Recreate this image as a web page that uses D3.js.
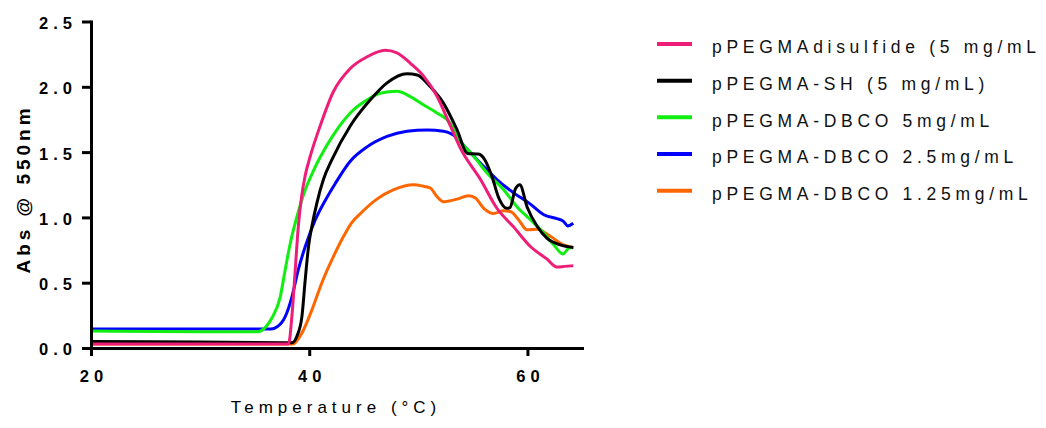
<!DOCTYPE html>
<html><head><meta charset="utf-8">
<script src="https://cdn.jsdelivr.net/npm/d3@7"></script>
<style>body{margin:0;background:#fff}svg{display:block}</style>
</head><body>
<svg id="chart" width="1046" height="428"></svg>
<script>
// ---- data ----
const seriesNames = ["pPEGMAdisulfide (5 mg/mL", "pPEGMA-SH (5 mg/mL)", "pPEGMA-DBCO 5mg/mL", "pPEGMA-DBCO 2.5mg/mL", "pPEGMA-DBCO 1.25mg/mL"];
const seriesColors = ["#ee1e78", "#000000", "#11ee11", "#0000ff", "#ff6600"];

const disulfideT = [20, 25, 30, 35, 38.1, 38.41, 38.72, 39.0, 39.3, 39.63, 40.1, 41.0, 42.2, 43.76, 45.3, 46.97, 48.04, 49.27, 50.5, 51.7, 52.94, 53.85, 55.7, 57.2, 58.7, 60.3, 61.8, 62.7, 63.4, 64.2];
const disulfideA = [0.03, 0.03, 0.03, 0.03, 0.03, 0.24, 0.60, 0.93, 1.16, 1.32, 1.47, 1.70, 1.96, 2.14, 2.23, 2.28, 2.26, 2.18, 2.08, 1.93, 1.70, 1.53, 1.29, 1.07, 0.93, 0.775, 0.68, 0.62, 0.625, 0.63];

const shT = [20, 30, 38.41, 38.87, 39.33, 39.63, 39.94, 40.24, 40.7, 41.3, 42.07, 43.76, 45.6, 47.13, 48.96, 49.9, 51.1, 52.3, 53.55, 54.5, 55.5, 56.1, 56.76, 57.37, 58.1, 58.4, 58.9, 59.3, 59.97, 60.9, 61.8, 63.0, 64.2];
const shA = [0.05, 0.045, 0.04, 0.09, 0.24, 0.52, 0.78, 0.93, 1.11, 1.29, 1.44, 1.70, 1.90, 2.03, 2.10, 2.09, 2.00, 1.875, 1.67, 1.49, 1.485, 1.44, 1.31, 1.15, 1.07, 1.075, 1.22, 1.25, 1.08, 0.93, 0.84, 0.79, 0.77];

const dbco5T = [20, 30, 35.3, 36.0, 36.58, 37.34, 37.8, 38.26, 38.87, 39.63, 40.4, 41.0, 42.2, 43.76, 45.3, 46.5, 48.04, 49.27, 50.5, 51.7, 52.94, 53.7, 55.07, 56.3, 57.84, 59.06, 60.3, 61.5, 62.4, 63.26, 63.8, 64.2];
const dbco5A = [0.13, 0.125, 0.125, 0.16, 0.23, 0.39, 0.60, 0.80, 1.005, 1.21, 1.36, 1.46, 1.63, 1.80, 1.90, 1.95, 1.965, 1.925, 1.86, 1.80, 1.72, 1.60, 1.47, 1.34, 1.21, 1.08, 0.98, 0.88, 0.79, 0.72, 0.765, 0.77];

const dbco25T = [20, 30, 36.5, 37.03, 37.8, 38.41, 39.0, 39.63, 40.55, 41.47, 42.39, 43.76, 45.3, 47.13, 48.96, 50.8, 52.3, 53.55, 54.16, 55.7, 57.2, 58.7, 60.3, 61.5, 62.7, 63.3, 63.7, 64.2];
const dbco25A = [0.145, 0.145, 0.145, 0.16, 0.24, 0.39, 0.60, 0.775, 0.98, 1.13, 1.26, 1.43, 1.54, 1.62, 1.66, 1.67, 1.66, 1.61, 1.55, 1.415, 1.29, 1.19, 1.10, 1.02, 0.99, 0.97, 0.935, 0.955];

const dbco125T = [20, 30, 38.5, 38.7, 39.33, 40.24, 41.16, 42.39, 43.15, 43.9, 44.7, 46.2, 47.7, 49.57, 50.4, 51.1, 51.7, 52.3, 53.55, 54.6, 55.2, 56.0, 56.9, 57.84, 58.44, 59.2, 59.97, 60.9, 62.1, 63.3, 64.2];
const dbco125A = [0.03, 0.03, 0.03, 0.04, 0.115, 0.29, 0.50, 0.73, 0.855, 0.96, 1.03, 1.14, 1.21, 1.25, 1.24, 1.225, 1.16, 1.12, 1.14, 1.165, 1.15, 1.07, 1.03, 1.05, 1.045, 0.98, 0.905, 0.91, 0.855, 0.79, 0.77];

const xTicks = [20, 40, 60];
const yTicks = [0, 0.5, 1.0, 1.5, 2.0, 2.5];
const yTickLabels = ["0.0", "0.5", "1.0", "1.5", "2.0", "2.5"];
const xTitle = "Temperature (°C)";
const yTitle = "Abs @ 550nm";

// ---- build ----
const seriesT = [disulfideT, shT, dbco5T, dbco25T, dbco125T];
const seriesA = [disulfideA, shA, dbco5A, dbco25A, dbco125A];
const series = seriesNames.map((n, i) => ({
  name: n, color: seriesColors[i],
  pts: seriesT[i].map((t, j) => [t, seriesA[i][j]])
}));

const svg = d3.select("#chart");
const FONT = "'Liberation Sans', Arial, Helvetica, sans-serif";
const x = d3.scaleLinear().domain([20, 65]).range([91, 582]);
const y = d3.scaleLinear().domain([0, 2.5]).range([348, 21.5]);

const line = d3.line().x(d => x(d[0])).y(d => y(d[1])).curve(d3.curveMonotoneX);

// draw order: orange, blue, green, black, pink
const order = [4, 3, 2, 1, 0];
svg.append("g").selectAll("path").data(order.map(i => series[i])).join("path")
  .attr("d", d => line(d.pts))
  .attr("fill", "none")
  .attr("stroke", d => d.color)
  .attr("stroke-width", 3)
  .attr("stroke-linejoin", "round");

// axes
const ls = 5;
const yAxis = svg.append("g").attr("transform", "translate(91,0)")
  .call(d3.axisLeft(y).tickValues(yTicks).tickFormat((d, i) => yTickLabels[i]).tickSize(9).tickSizeOuter(0).tickPadding(10));
const xAxis = svg.append("g").attr("transform", "translate(0,348)")
  .call(d3.axisBottom(x).tickValues(xTicks).tickFormat(d3.format("d")).tickSize(8).tickSizeOuter(0).tickPadding(14));
[yAxis, xAxis].forEach(g => {
  g.select(".domain").attr("stroke", "#000").attr("stroke-width", 3).attr("stroke-linecap", "square");
  g.selectAll(".tick line").attr("stroke", "#000").attr("stroke-width", 3);
  g.selectAll(".tick text").attr("fill", "#000")
    .style("font-family", FONT).style("font-size", "16.5px").style("font-weight", "bold")
    .style("letter-spacing", ls + "px");
});
yAxis.selectAll(".tick text").attr("dx", ls).attr("dy", "0.42em");
xAxis.selectAll(".tick text").attr("dx", ls / 2);

// axis titles
svg.append("text").attr("x", 336).attr("y", 413)
  .attr("text-anchor", "middle").style("font-family", FONT).style("font-size", "17px")
  .style("letter-spacing", "5px").attr("fill", "#000").text(xTitle);
svg.append("text").attr("transform", "translate(30,189) rotate(-90)")
  .attr("text-anchor", "middle").style("font-family", FONT).style("font-size", "19px")
  .style("font-weight", "bold").style("letter-spacing", "4px").attr("fill", "#000").text(yTitle);

// legend
const legY = d3.scaleLinear().domain([0, 4]).range([44, 190.7]);
const leg = svg.append("g").selectAll("g").data(series).join("g")
  .attr("transform", (d, i) => `translate(0,${legY(i)})`);
leg.append("line").attr("x1", 657).attr("x2", 692).attr("y1", 0).attr("y2", 0)
  .attr("stroke", d => d.color).attr("stroke-width", 4);
leg.append("text").attr("x", 712).attr("y", 9.3)
  .style("font-family", FONT).style("font-size", "17.5px").style("letter-spacing", "4.7px")
  .attr("fill", "#111").text(d => d.name);
</script>
</body></html>
